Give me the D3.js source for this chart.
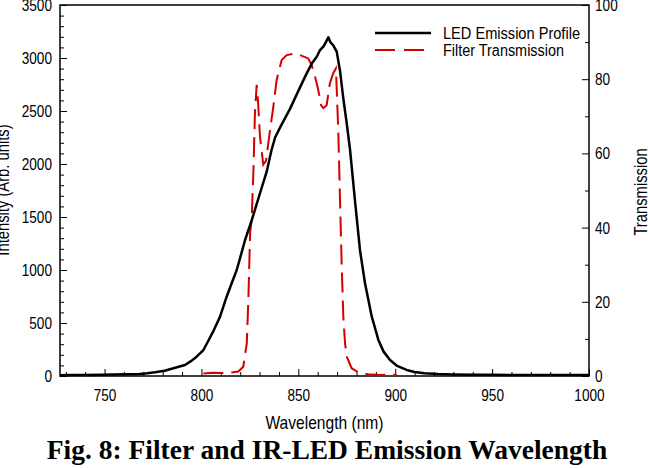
<!DOCTYPE html>
<html><head><meta charset="utf-8">
<script src="https://cdn.jsdelivr.net/npm/d3@7"></script>
<style>
html,body{margin:0;padding:0;background:#fff;}
svg{display:block;}
.lab{font-family:"Liberation Sans",Arial,sans-serif;}
</style>
</head><body>
<svg id="c" width="648" height="468"></svg>
<script>
// LED emission profile (wavelength nm, intensity arb. units)
const ledWavelength = [727,733,740,748,755,762,768,772,776,781,786,791.5,795,797.5,801,803.5,806,809.6,813,815.5,818.2,820.5,822.5,826,830.2,833.7,836,838,841,845.7,850,854.3,857,859.5,861.2,863,864.5,865.5,866.5,868,869.8,871.5,873.2,875,876.7,879.2,881.8,884.4,887.9,891.3,894,897.3,901,905.9,910,915,922,930,940,950,960,970,980,990,1000];
const ledIntensity  = [8,10,9,12,14,16,20,25,35,50,75,104,145,182,245,330,418,560,748,870,1000,1150,1283,1472,1724,1930,2120,2250,2360,2520,2690,2855,2950,3012,3075,3110,3160,3195,3150,3120,3060,2880,2620,2380,2132,1660,1189,875,560,340,230,151,95,57,38,25,18,14,12,11,10,10,9,9,9];
// Filter transmission (wavelength nm, transmission %)
const filterWavelength = [801,806,811,816.4,819,821.6,823.4,824.2,825.1,825.9,826.8,827.6,828.5,829.2,830.2,831.9,833.3,835.4,837.1,838.8,841.4,844,847,850.9,855.1,856.9,858.6,860.3,861.7,862.9,864.6,866.3,868,869.4,870.6,871.5,872.4,873.2,874.1,875,877.5,881.8,886,892.1,896,900.8];
const filterTransmission = [0.7,0.9,0.8,1.0,1.2,2.5,8.8,20.5,38.5,42,55,70.8,78.5,74,64.5,57,58,66.3,72.6,79.8,85.2,86.5,86.8,86.5,85.6,83.8,80.7,77.1,73,72.2,73,78.9,81.6,82.9,66.3,47.5,29.5,16,8.8,5.2,2.1,0.7,0.5,0.3,0.4,0.3];
const xTicks = [750,800,850,900,950,1000];
const yLeftTicks = [0,500,1000,1500,2000,2500,3000,3500];
const yRightTicks = [0,20,40,60,80,100];
const seriesNames = ["LED Emission Profile","Filter Transmission"];

const svg = d3.select("#c");
const L = 60, R = 589, T = 5, B = 376;
const x = d3.scaleLinear().domain([727,1000]).range([L,R]);
const yL = d3.scaleLinear().domain([0,3500]).range([B,T]);
const yR = d3.scaleLinear().domain([0,100]).range([B,T]);

svg.append("rect").attr("width",648).attr("height",468).attr("fill","#fff");

// narrow the sans text horizontally (reference uses a condensed face)
function narrow(sel, f){
  sel.each(function(){
    const n = this.getComputedTextLength();
    if(n>0) d3.select(this).attr("textLength", n*f).attr("lengthAdjust","spacingAndGlyphs");
  });
}
function styleAxis(g){
  g.selectAll("path.domain").remove();
  g.selectAll("line").attr("stroke","#000").attr("stroke-width",1);
  g.selectAll("text").attr("class","lab").attr("font-size",17).attr("fill","#000");
  narrow(g.selectAll("text"),0.8);
}
// minor ticks
const xMinor = d3.range(730,1000,10).filter(v=>v%50!==0);
svg.append("g").attr("transform",`translate(0,${B})`)
  .call(d3.axisBottom(x).tickValues(xMinor).tickSize(-4).tickFormat("")).call(styleAxis);
svg.append("g").attr("transform",`translate(0,${B})`)
  .call(d3.axisBottom(x).tickValues(xTicks).tickSize(-7).tickPadding(13).tickFormat(d3.format("d"))).call(styleAxis);
const yLMinor = d3.range(100,3500,100).filter(v=>v%500!==0);
svg.append("g").attr("transform",`translate(${L},0)`)
  .call(d3.axisLeft(yL).tickValues(yLMinor).tickSize(-4).tickFormat("")).call(styleAxis);
svg.append("g").attr("transform",`translate(${L},0)`)
  .call(d3.axisLeft(yL).tickValues(yLeftTicks).tickSize(-7).tickPadding(8).tickFormat(d3.format("d"))).call(styleAxis);
const yRMinor = d3.range(10,100,20);
svg.append("g").attr("transform",`translate(${R},0)`)
  .call(d3.axisRight(yR).tickValues(yRMinor).tickSize(-4).tickFormat("")).call(styleAxis);
svg.append("g").attr("transform",`translate(${R},0)`)
  .call(d3.axisRight(yR).tickValues(yRightTicks).tickSize(-7).tickPadding(6).tickFormat(d3.format("d"))).call(styleAxis);

// frame
svg.append("rect").attr("x",L).attr("y",T).attr("width",R-L).attr("height",B-T)
  .attr("fill","none").attr("stroke","#000").attr("stroke-width",1.5);

// curves
const filterData = filterWavelength.map((w,i)=>[w,filterTransmission[i]]);
const ledData = ledWavelength.map((w,i)=>[w,ledIntensity[i]]);
svg.append("path").datum(filterData)
  .attr("d",d3.line().x(d=>x(d[0])).y(d=>yR(d[1])))
  .attr("fill","none").attr("stroke","#d40000").attr("stroke-width",2).attr("stroke-dasharray","20,8");
svg.append("path").datum(ledData)
  .attr("d",d3.line().x(d=>x(d[0])).y(d=>yL(d[1])))
  .attr("fill","none").attr("stroke","#000").attr("stroke-width",2.5).attr("stroke-linejoin","round");

// legend
const lg = svg.append("g");
lg.append("line").attr("x1",375).attr("x2",431).attr("y1",33).attr("y2",33).attr("stroke","#000").attr("stroke-width",2.5);
lg.append("line").attr("x1",375).attr("x2",431).attr("y1",50).attr("y2",50).attr("stroke","#d40000").attr("stroke-width",2).attr("stroke-dasharray","20,9");
lg.append("text").attr("class","lab").attr("x",443).attr("y",38.5).attr("font-size",16)
  .attr("textLength",137).attr("lengthAdjust","spacingAndGlyphs").text(seriesNames[0]);
lg.append("text").attr("class","lab").attr("x",443).attr("y",55.5).attr("font-size",16)
  .attr("textLength",121).attr("lengthAdjust","spacingAndGlyphs").text(seriesNames[1]);

// axis titles
const xt = svg.append("text").attr("class","lab").attr("x",(L+R)/2).attr("y",429).attr("text-anchor","middle").attr("font-size",19).text("Wavelength (nm)");
const ylt = svg.append("text").attr("class","lab").attr("transform","translate(9,190) rotate(-90)").attr("text-anchor","middle").attr("font-size",18).text("Intensity (Arb. units)");
const yrt = svg.append("text").attr("class","lab").attr("transform","translate(647,192) rotate(-90)").attr("text-anchor","middle").attr("font-size",18).text("Transmission");
narrow(xt,0.82); narrow(ylt,0.82); narrow(yrt,0.82);

// figure caption
svg.append("text").attr("x",327).attr("y",459).attr("text-anchor","middle")
  .attr("font-family","'Liberation Serif','Times New Roman',serif").attr("font-weight","bold").attr("font-size",27.5)
  .text("Fig. 8: Filter and IR-LED Emission Wavelength");
</script>
</body></html>
